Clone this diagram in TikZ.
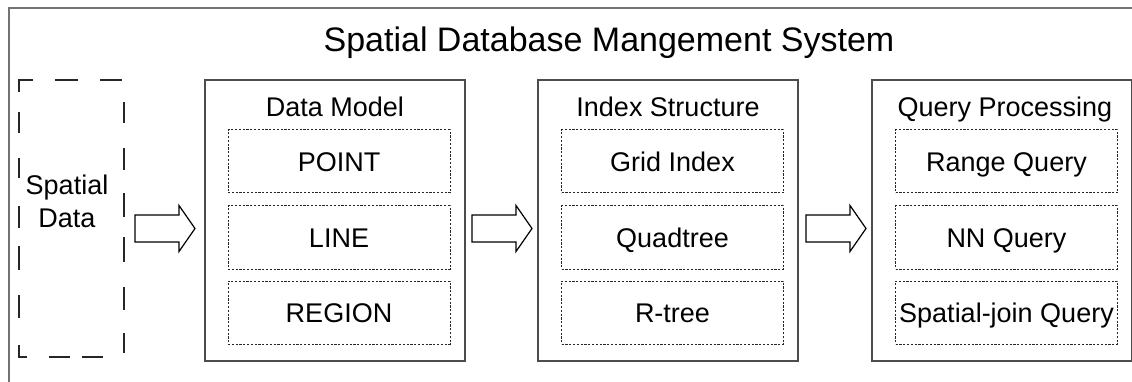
\documentclass[tikz,border=0pt]{standalone}
\usepackage{fontspec}
\setmainfont{Liberation Sans}
\begin{document}
\begin{tikzpicture}[x=1pt,y=-1pt,
  outerline/.style={draw=black!55,line width=1.3pt},
  mainbox/.style={draw=black!70,line width=1.2pt,minimum width=260pt,minimum height=281pt,inner sep=0pt},
  itembox/.style={draw=black!85,line width=1pt,dash pattern=on 2.2pt off 1.6pt,minimum width=222pt,minimum height=63pt,inner sep=0pt},
  srcbox/.style={minimum width=105pt,minimum height=277pt,inner sep=0pt},
  srcdash/.style={draw=black!85,line width=1.4pt,line cap=butt},
  title/.style={font=\fontsize{34}{40}\selectfont,anchor=base,inner sep=0pt},
  sub/.style={font=\fontsize{27}{32}\selectfont,anchor=base,inner sep=0pt},
  item/.style={font=\fontsize{27}{32}\selectfont,anchor=base,inner sep=0pt},
  blockarrow/.style={draw=black,line width=1.2pt,fill=white,line join=miter}]
\useasboundingbox (0,0) rectangle (1132,382);
\draw[outerline] (9,382) -- (9,8) -- (1135,8);
\node[title] (ttl) at (609,52) {Spatial Database Mangement System};

% source (dashed box drawn as its visible dashes)
\node[srcbox] (src) at (71.5,218.5) {};
\draw[srcdash] (33,80) -- (19,80) -- (19,92);
\draw[srcdash] (19,345) -- (19,357) -- (27,357);
\foreach \a/\b in {55/78,100/122}{\draw[srcdash] (\a,80) -- (\b,80);}
\foreach \a/\b in {49/70,82/103}{\draw[srcdash] (\a,357) -- (\b,357);}
\foreach \a/\b in {112/133,158/178,206/228,246/270,295/318}{\draw[srcdash] (19,\a) -- (19,\b);}
\foreach \a/\b in {102/123,148/170,193/217,237/262,287/310,333/353}{\draw[srcdash] (124,\a) -- (124,\b);}
\node[sub] (srct) at (67,195) {Spatial};
\node[sub] (srct2) at (67,227) {Data};

% main boxes
\node[mainbox] (dm) at (335,220.5) {};
\node[mainbox] (is) at (668,220.5) {};
\node[mainbox] (qp) at (1002,220.5) {};
\node[sub] (dmt) at (335,117) {Data Model};
\node[sub] (ist) at (668,117) {Index Structure};
\node[sub] (qpt) at (1005,117) {Query Processing};

% items
\foreach \nm/\cx/\a/\b/\c in {dmi/339/POINT/LINE/REGION, isi/672.5/Grid Index/Quadtree/R-tree, qpi/1006.5/Range Query/NN Query/Spatial-join Query}{
  \node[itembox] (\nm1) at (\cx,161.5) {};
  \node[itembox] (\nm2) at (\cx,237.5) {};
  \node[itembox] (\nm3) at (\cx,312.5) {};
  \node[item] (\nm1t) at ([yshift=-10pt]\nm1.center) {\a};
  \node[item] (\nm2t) at ([yshift=-10pt]\nm2.center) {\b};
  \node[item] (\nm3t) at ([yshift=-10pt]\nm3.center) {\c};
}

% block arrows
\foreach \t/\nm in {135/ar1,472/ar2,806/ar3}{
  \coordinate (\nm) at (\t,228.5);
  \draw[blockarrow] (\nm) ++(0,-13.5) -- ++(44,0) -- ++(0,-9.5) -- ++(16,23) -- ++(-16,23) -- ++(0,-9.5) -- ++(-44,0) -- cycle;
}
\end{tikzpicture}
\end{document}
